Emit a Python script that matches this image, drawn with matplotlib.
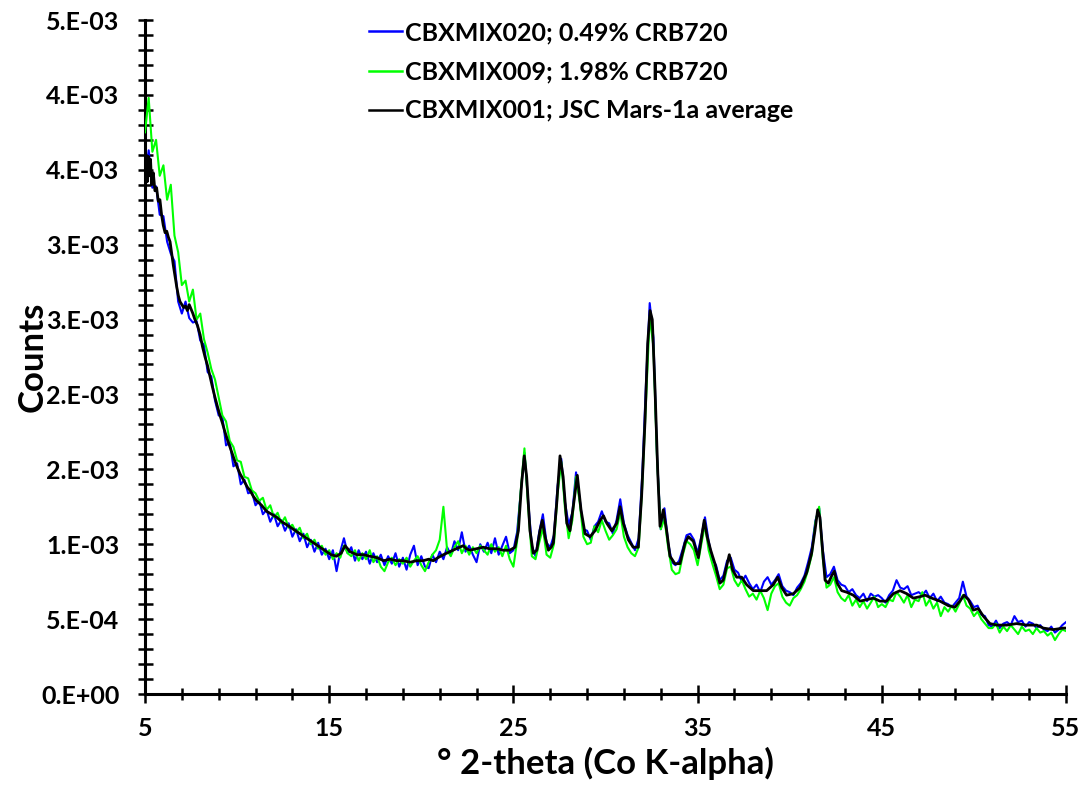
import matplotlib
matplotlib.use("Agg")
import matplotlib.pyplot as plt
from matplotlib.ticker import MultipleLocator, FixedLocator, FixedFormatter

# ---------------- data (counts in units of 1e-4) ----------------
series_labels = ["CBXMIX020; 0.49% CRB720",
                 "CBXMIX009; 1.98% CRB720",
                 "CBXMIX001; JSC Mars-1a average"]
series_colors = ["#0000FF", "#00FF00", "#000000"]

# black (average) curve
avg_x = [5.00, 5.06, 5.12, 5.18, 5.24, 5.30, 5.36, 5.45, 5.54, 5.63, 5.72, 5.81, 5.90, 5.99,
         6.09, 6.18, 6.27, 6.36, 6.45, 6.54, 6.63, 6.72, 6.81, 6.90, 7.00, 7.10, 7.20, 7.30,
         7.40, 7.50, 7.60, 7.71, 7.85, 7.99, 8.12, 8.26, 8.40, 8.53, 8.66, 8.80, 8.93, 9.07,
         9.20, 9.34, 9.47, 9.61, 9.75, 9.89, 10.02, 10.16, 10.30, 10.43, 10.56, 10.70, 10.88,
         11.06, 11.33, 11.60, 11.88, 12.15, 12.42, 12.69, 13.05, 13.41, 13.78, 14.14, 14.50,
         14.86, 15.10, 15.40, 15.65, 15.86, 16.00, 16.13, 16.50, 16.85, 17.20, 17.60, 17.95,
         18.30, 18.66, 19.00, 19.40, 19.75, 20.10, 20.40, 20.65, 20.90, 21.20, 21.55, 21.90,
         22.27, 22.45, 22.64, 23.00, 23.36, 23.70, 24.08, 24.45, 24.80, 25.09, 25.27, 25.45,
         25.59, 25.72, 25.90, 26.08, 26.27, 26.44, 26.57, 26.72, 26.90, 27.05, 27.17, 27.35,
         27.53, 27.70, 27.90, 28.07, 28.25, 28.47, 28.67, 28.89, 29.16, 29.43, 29.71, 29.89,
         30.07, 30.34, 30.61, 30.79, 30.97, 31.24, 31.50, 31.78, 31.96, 32.14, 32.29, 32.42,
         32.54, 32.69, 32.84, 32.96, 33.14, 33.32, 33.50, 33.77, 34.04, 34.32, 34.50, 34.77,
         35.04, 35.22, 35.36, 35.52, 35.71, 35.94, 36.21, 36.39, 36.57, 36.72, 36.90, 37.12,
         37.39, 37.66, 38.02, 38.39, 38.75, 39.11, 39.35, 39.57, 39.83, 40.20, 40.56, 40.92,
         41.19, 41.37, 41.52, 41.64, 41.77, 41.92, 42.10, 42.28, 42.42, 42.58, 42.82, 43.09,
         43.45, 43.82, 44.18, 44.54, 44.90, 45.26, 45.63, 45.99, 46.35, 46.71, 47.08, 47.35,
         47.71, 48.16, 48.61, 48.97, 49.24, 49.46, 49.70, 49.97, 50.24, 50.51, 50.87, 51.24,
         51.78, 52.32, 52.86, 53.41, 53.77, 54.31, 54.85, 55.00]
avg_y = [35.0, 36.0, 34.2, 35.9, 34.6, 35.7, 34.0, 34.8, 33.6, 33.8, 32.9, 33.0, 32.0, 31.3,
         30.8, 30.9, 30.5, 30.2, 29.4, 28.6, 27.9, 27.2, 26.6, 26.2, 26.0, 25.8, 25.9, 25.6,
         26.0, 25.7, 25.4, 25.0, 24.6, 24.0, 23.2, 22.5, 21.9, 21.2, 20.5, 19.8, 19.2, 18.6,
         18.1, 17.5, 17.0, 16.5, 16.0, 15.5, 15.1, 14.7, 14.4, 14.1, 13.8, 13.6, 13.2,
         12.9, 12.6, 12.2, 12.0, 11.8, 11.5, 11.3, 11.0, 10.7, 10.4, 10.1, 9.8,
         9.5, 9.3, 9.2, 9.4, 9.9, 9.7, 9.5, 9.3, 9.3, 9.2, 9.1, 8.9,
         9.0, 8.9, 8.9, 8.8, 8.9, 8.9, 9.0, 8.9, 9.1, 9.3, 9.5, 9.7,
         9.9, 9.7, 9.6, 9.7, 9.8, 9.7, 9.7, 9.6, 9.6, 9.8, 10.9, 14.1,
         15.9, 14.5, 10.9, 9.4, 9.6, 10.9, 11.6, 10.5, 9.6, 9.8, 10.1, 12.7,
         15.9, 14.5, 11.4, 10.9, 12.5, 14.6, 12.3, 10.7, 10.5, 10.9, 11.6, 11.9,
         11.4, 10.9, 11.4, 12.5, 11.4, 10.3, 9.8, 9.8, 13.2, 18.1, 23.4, 25.6,
         25.0, 20.3, 14.7, 11.2, 12.3, 10.9, 9.2, 8.7, 8.7, 10.1, 10.5, 10.2,
         9.1, 10.5, 11.6, 10.5, 9.6, 8.7, 7.4, 7.6, 8.5, 9.3, 8.3, 7.8,
         7.8, 7.3, 6.9, 6.9, 6.9, 7.3, 7.8, 7.1, 6.6, 6.7, 7.1, 8.1,
         9.4, 10.9, 12.3, 11.8, 9.8, 7.6, 7.4, 7.9, 8.2, 7.4, 6.9, 6.8,
         6.6, 6.2, 6.3, 6.4, 6.2, 6.2, 6.7, 6.9, 6.7, 6.4, 6.5, 6.6,
         6.4, 6.2, 5.9, 5.8, 6.2, 6.6, 6.3, 5.6, 5.7, 5.2, 4.7, 4.6,
         4.6, 4.7, 4.6, 4.6, 4.4, 4.3, 4.4, 4.4]

# individual scans read on a 0.2 degree step, 5.0 .. 55.0
scan_start, scan_step = 5.0, 0.2
blue_y = [34.2, 36.3, 33.8, 33.9, 32.0, 31.9, 30.2, 29.4, 28.9, 26.2,
          25.4, 26.2, 25.1, 24.8, 24.9, 23.6, 23.3, 21.5, 21.2, 19.6,
          18.6, 18.5, 16.6, 16.8, 15.2, 15.4, 14.0, 14.3, 13.4, 13.5,
          12.6, 12.9, 12.0, 12.3, 11.5, 12.0, 11.2, 11.6, 10.9, 11.4,
          10.5, 11.0, 10.2, 10.7, 9.8, 10.3, 9.5, 10.1, 9.3, 9.7,
          9.0, 9.6, 8.2, 9.5, 10.4, 9.4, 9.8, 8.9, 9.6, 9.0,
          9.5, 8.7, 9.4, 8.8, 9.3, 8.6, 9.2, 8.7, 9.4, 8.5,
          9.1, 8.3, 9.3, 9.9, 8.6, 9.2, 8.5, 8.4, 9.3, 8.8,
          9.5, 9.0, 9.8, 9.3, 10.2, 9.6, 10.8, 9.5, 9.9, 9.3,
          8.8, 10.0, 9.5, 10.1, 9.4, 10.4, 9.3, 9.9, 10.5, 9.4,
          9.6, 10.8, 13.5, 16.1, 12.9, 9.9, 9.2, 10.8, 12.0, 10.1,
          9.8, 10.6, 13.9, 15.7, 12.8, 11.3, 12.1, 14.8, 13.0, 11.0,
          10.9, 10.3, 11.2, 11.5, 12.2, 11.5, 11.4, 10.7, 11.6, 13.0,
          11.4, 10.6, 10.1, 9.6, 10.4, 14.8, 20.8, 26.1, 23.8, 15.8,
          11.0, 12.4, 10.1, 8.8, 8.6, 8.9, 9.7, 10.6, 10.7, 10.3,
          9.4, 10.5, 11.8, 10.2, 9.0, 8.6, 7.6, 7.9, 8.9, 9.1,
          8.3, 8.1, 7.5, 7.9, 7.4, 7.0, 7.3, 6.8, 7.5, 7.8,
          7.3, 7.6, 8.0, 7.2, 6.9, 6.8, 6.6, 7.1, 7.4, 7.9,
          8.8, 9.8, 11.6, 12.4, 9.6, 7.8, 8.0, 8.5, 7.6, 7.3,
          7.2, 6.8, 7.0, 6.6, 6.4, 6.7, 6.2, 6.7, 6.5, 6.6,
          6.4, 6.1, 6.6, 6.9, 7.6, 7.1, 7.0, 7.2, 6.6, 6.7,
          6.8, 6.6, 6.9, 6.4, 6.7, 6.2, 6.5, 6.1, 6.0, 5.8,
          6.1, 6.4, 7.5, 6.5, 6.2, 5.8, 5.9, 5.3, 5.2, 4.6,
          4.5, 4.9, 4.4, 4.7, 4.8, 4.6, 5.2, 4.8, 4.9, 4.5,
          4.8, 4.7, 4.4, 4.6, 4.3, 4.2, 4.5, 4.1, 4.3, 4.6,
          4.8]
green_y = [37.5, 39.8, 36.2, 37.0, 34.6, 35.3, 33.0, 34.0, 30.6, 29.5,
           27.3, 27.6, 26.2, 27.0, 25.0, 25.4, 23.7, 22.8, 21.7, 21.0,
           19.8, 18.6, 18.2, 16.9, 16.5, 15.6, 15.5, 14.5, 14.4, 13.6,
           13.4, 12.9, 13.1, 12.3, 12.6, 11.8, 12.1, 11.4, 11.8, 11.1,
           11.3, 10.8, 11.1, 10.4, 10.7, 10.0, 10.3, 9.7, 9.9, 9.3,
           9.6, 9.0, 9.4, 9.1, 9.9, 9.4, 9.2, 9.6, 8.9, 9.4,
           9.0, 9.6, 8.8, 9.2, 8.5, 8.2, 8.8, 9.1, 8.6, 9.0,
           8.7, 9.1, 8.5, 8.9, 9.2, 8.6, 8.2, 8.8, 9.3, 9.6,
           10.3, 12.5, 9.6, 9.2, 9.8, 10.2, 9.4, 9.9, 9.3, 9.8,
           9.4, 9.9, 9.6, 9.3, 10.0, 9.5, 9.8, 9.2, 9.9, 9.0,
           8.5, 10.2, 13.6, 16.4, 12.5, 9.2, 9.0, 10.1, 11.1, 9.3,
           9.1, 10.0, 13.4, 15.5, 12.4, 10.4, 11.6, 14.5, 12.8, 10.5,
           10.0, 10.1, 11.2, 10.8, 11.6, 10.9, 10.3, 10.6, 11.0, 12.1,
           10.5, 9.8, 9.4, 9.2, 9.8, 14.0, 19.6, 25.2, 23.2, 15.6,
           11.0, 11.7, 9.8, 8.3, 8.0, 8.1, 9.3, 10.2, 10.0, 9.6,
           8.6, 10.0, 11.3, 9.6, 8.7, 7.9, 7.0, 7.3, 8.4, 8.5,
           7.6, 7.2, 7.6, 7.0, 6.5, 6.7, 6.3, 6.9, 6.4, 5.6,
           6.7, 7.2, 7.4, 6.5, 6.1, 5.9, 6.4, 6.6, 7.0, 7.5,
           8.3, 9.3, 11.5, 12.5, 9.0, 7.1, 7.3, 7.8, 6.8, 6.4,
           6.2, 6.6, 5.9, 6.3, 5.8, 6.2, 5.7, 6.1, 6.5, 5.8,
           6.0, 5.8, 6.3, 6.2, 6.8, 6.5, 6.1, 6.6, 5.8, 6.3,
           6.2, 6.8, 5.9, 6.3, 5.7, 6.1, 5.2, 5.8, 5.5, 5.9,
           5.5, 6.0, 6.6, 5.9, 5.7, 5.2, 5.5, 5.0, 4.7, 4.4,
           4.4, 4.7, 4.1, 4.5, 4.2, 4.6, 4.3, 4.0, 4.5, 4.2,
           4.3, 4.0, 4.4, 4.1, 4.2, 3.9, 4.1, 3.6, 4.0, 4.3,
           4.2]
value_scale = 1e-4

xticks = [5, 15, 25, 35, 45, 55]
xtick_labels = ["5", "15", "25", "35", "45", "55"]
yticks = [0, 5e-4, 1e-3, 1.5e-3, 2e-3, 2.5e-3, 3e-3, 3.5e-3, 4e-3, 4.5e-3]
ytick_labels = ["0.E+00", "5.E-04", "1.E-03", "2.E-03", "2.E-03",
                "3.E-03", "3.E-03", "4.E-03", "4.E-03", "5.E-03"]
xlabel = "° 2-theta (Co K-alpha)"
ylabel = "Counts"

# ---------------- plot ----------------
plt.rcParams['font.family'] = ['Lato', 'DejaVu Sans']
plt.rcParams['font.weight'] = 'bold'

fig = plt.figure(figsize=(10.89, 7.92), dpi=100)
ax = fig.add_axes([145/1089, 1-694/792, (1066-145)/1089, (694-20)/792])

scan_x = [scan_start + scan_step * i for i in range(len(blue_y))]
ax.plot(scan_x, [v * value_scale for v in blue_y], color=series_colors[0], lw=1.5,
        label=series_labels[0], zorder=2)
ax.plot(scan_x, [v * value_scale for v in green_y], color=series_colors[1], lw=1.5,
        label=series_labels[1], zorder=3)
ax.plot(avg_x, [v * value_scale for v in avg_y], color=series_colors[2], lw=2.0,
        label=series_labels[2], zorder=4)

ax.set_xlim(5, 55)
ax.set_ylim(0, 4.5e-3)

for s in ['top', 'right']:
    ax.spines[s].set_visible(False)
for s in ['left', 'bottom']:
    ax.spines[s].set_linewidth(2.2)

ax.xaxis.set_major_locator(FixedLocator(xticks))
ax.xaxis.set_major_formatter(FixedFormatter(xtick_labels))
ax.xaxis.set_minor_locator(FixedLocator([x for x in range(7, 55, 2) if (x - 5) % 10 != 0]))
ax.yaxis.set_major_locator(FixedLocator(yticks))
ax.yaxis.set_major_formatter(FixedFormatter(ytick_labels))
ax.yaxis.set_minor_locator(MultipleLocator(1e-4))

ax.tick_params(axis='x', which='major', direction='inout', length=13, width=1.8,
               pad=10, labelsize=18)
ax.tick_params(axis='x', which='minor', direction='inout', length=8.6, width=1.8)
ax.tick_params(axis='y', which='both', direction='inout', length=10.8, width=1.8,
               pad=13, labelsize=18)
for t in ax.get_xticklabels() + ax.get_yticklabels():
    t.set_fontweight('bold')

ax.set_xlabel(xlabel, fontsize=25, fontweight='bold')
ax.set_ylabel(ylabel, fontsize=25, fontweight='bold')
ax.xaxis.set_label_coords(0.5, -0.079)
ax.yaxis.set_label_coords(-0.105, 0.5)

leg = fig.legend(loc='upper left', bbox_to_anchor=(369/1089, 1-21/792), frameon=False,
                 prop={'size': 18, 'weight': 'bold'}, handlelength=1.32,
                 handletextpad=0.12, labelspacing=0.65, borderaxespad=0, borderpad=0)
for h in leg.get_lines():
    h.set_linewidth(1.8)

fig.savefig("out.png", dpi=100)
